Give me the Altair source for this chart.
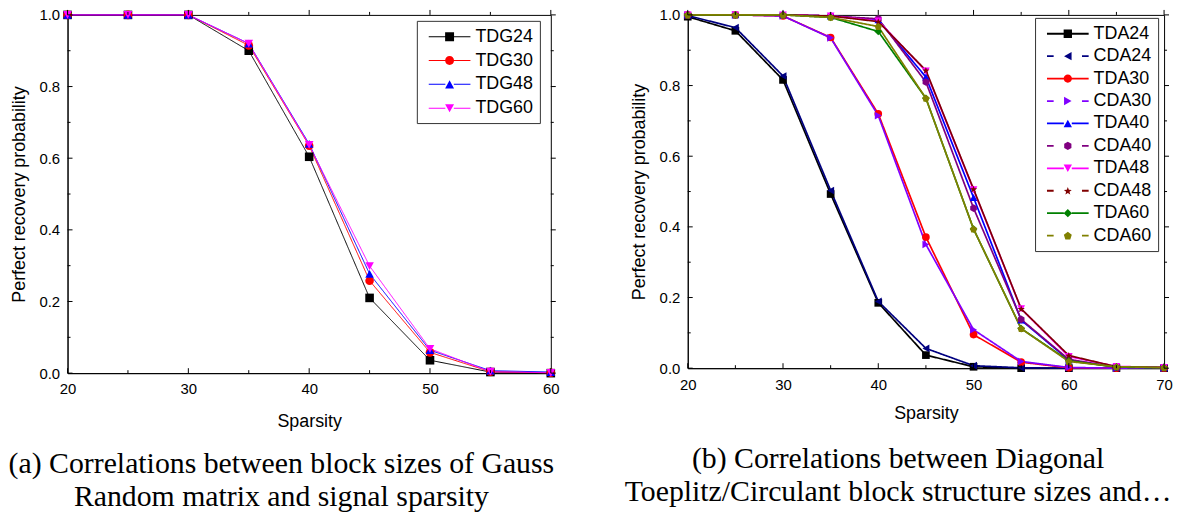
import math
import altair as alt
import pandas as pd

# ---------------- data ----------------
sparsity_a = [20, 25, 30, 35, 40, 45, 50, 55, 60]
series_a = ["TDG24", "TDG30", "TDG48", "TDG60"]
tdg24 = [1.0, 1.0, 1.0, 0.900, 0.604, 0.210, 0.036, 0.003, 0.000]
tdg30 = [1.0, 1.0, 1.0, 0.915, 0.635, 0.258, 0.058, 0.004, 0.001]
tdg48 = [1.0, 1.0, 1.0, 0.920, 0.640, 0.277, 0.064, 0.007, 0.003]
tdg60 = [1.0, 1.0, 1.0, 0.920, 0.637, 0.299, 0.068, 0.004, 0.001]
values_a = [tdg24, tdg30, tdg48, tdg60]
colors_a = ["#000000", "#FF0000", "#0000FF", "#FF00FF"]
markers_a = ["square", "circle", "triangle-up", "triangle-down"]
dashed_a = [False, False, False, False]

sparsity_b = [20, 25, 30, 35, 40, 45, 50, 55, 60, 65, 70]
series_b = ["TDA24", "CDA24", "TDA30", "CDA30", "TDA40",
            "CDA40", "TDA48", "CDA48", "TDA60", "CDA60"]
tda24 = [0.995, 0.955, 0.816, 0.493, 0.185, 0.037, 0.004, 0.0, 0.0, 0.0, 0.0]
cda24 = [0.998, 0.964, 0.827, 0.503, 0.189, 0.056, 0.007, 0.001, 0.0, 0.0, 0.0]
tda30 = [1.0, 1.0, 0.997, 0.936, 0.720, 0.371, 0.095, 0.017, 0.001, 0.0, 0.0]
cda30 = [1.0, 1.0, 0.997, 0.935, 0.715, 0.350, 0.109, 0.019, 0.002, 0.0, 0.0]
tda40 = [1.0, 1.0, 1.0, 0.997, 0.986, 0.824, 0.483, 0.136, 0.023, 0.003, 0.002]
cda40 = [1.0, 1.0, 1.0, 0.997, 0.989, 0.810, 0.453, 0.138, 0.025, 0.003, 0.001]
tda48 = [1.0, 1.0, 1.0, 0.997, 0.983, 0.841, 0.505, 0.168, 0.033, 0.005, 0.002]
cda48 = [1.0, 1.0, 1.0, 0.997, 0.981, 0.843, 0.507, 0.168, 0.036, 0.004, 0.002]
tda60 = [1.0, 1.0, 1.0, 0.993, 0.953, 0.764, 0.394, 0.112, 0.021, 0.003, 0.001]
cda60 = [1.0, 1.0, 1.0, 0.993, 0.967, 0.764, 0.394, 0.112, 0.019, 0.004, 0.002]
values_b = [tda24, cda24, tda30, cda30, tda40, cda40, tda48, cda48, tda60, cda60]
colors_b = ["#000000", "#000080", "#FF0000", "#8000FF", "#0000FF",
            "#800080", "#FF00FF", "#800000", "#008000", "#808000"]
markers_b = ["square", "triangle-left", "circle", "triangle-right", "triangle-up",
             "hexagon", "triangle-down", "star", "diamond", "pentagon"]
dashed_b = [False, True, False, True, False, True, False, True, False, True]

y_major = [0.0, 0.2, 0.4, 0.6, 0.8, 1.0]
y_minor = [0.1, 0.3, 0.5, 0.7, 0.9]
x_major_a = [20, 30, 40, 50, 60]
x_minor_a = [25, 35, 45, 55]
x_major_b = [20, 30, 40, 50, 60, 70]
x_minor_b = [25, 35, 45, 55, 65]

caption_a = ["(a) Correlations between block sizes of Gauss",
             "Random matrix and signal sparsity"]
caption_b = ["(b) Correlations between Diagonal",
             "Toeplitz/Circulant block structure sizes and sparsity"]

SANS = "Liberation Sans"
SERIF = "Liberation Serif"

LEG_SIZE = 400          # legend symbol box: 20 px, 1 unit = 10 px
LEG_HALF = 2.1          # half length of legend line in units (42 px line)


# ---------------- marker geometry (unit box -1..1) ----------------
def poly(pts):
    return "M" + "L".join(f"{x:.4f},{y:.4f}" for x, y in pts) + "Z"


def marker_pts(kind):
    if kind == "square":
        return [(-1, -1), (1, -1), (1, 1), (-1, 1)]
    if kind == "triangle-up":
        return [(0, -0.9), (1, 0.9), (-1, 0.9)]
    if kind == "triangle-down":
        return [(0, 0.9), (1, -0.9), (-1, -0.9)]
    if kind == "triangle-left":
        return [(-0.9, 0), (0.9, -1), (0.9, 1)]
    if kind == "triangle-right":
        return [(0.9, 0), (-0.9, -1), (-0.9, 1)]
    if kind == "diamond":
        return [(0, -1), (1, 0), (0, 1), (-1, 0)]
    if kind == "hexagon":
        return [(math.cos(math.radians(-90 + 60 * k)), math.sin(math.radians(-90 + 60 * k))) for k in range(6)]
    if kind == "pentagon":
        return [(math.cos(math.radians(-90 + 72 * k)), 0.1 + math.sin(math.radians(-90 + 72 * k))) for k in range(5)]
    if kind == "star":
        pts = []
        for k in range(10):
            r = 1.0 if k % 2 == 0 else 0.42
            a = math.radians(-90 + 36 * k)
            pts.append((r * math.cos(a), 0.1 + r * math.sin(a)))
        return pts
    return None


def marker_path(kind, m=1.0):
    if kind == "circle":
        return f"M{m},0A{m},{m},0,1,1,{-m},0A{m},{m},0,1,1,{m},0Z"
    return poly([(x * m, y * m) for x, y in marker_pts(kind)])


def rect(x0, x1, t):
    return poly([(x0, -t), (x1, -t), (x1, t), (x0, t)])


def legend_path(kind, dashed, m, t):
    L = LEG_HALF
    if dashed:
        line = rect(-L, -0.68 * L, t) + rect(0.68 * L, L, t)
    else:
        line = rect(-L, -m * 0.95, t) + rect(m * 0.95, L, t)
    return line + marker_path(kind, m)


def chart_shape(kind):
    return "circle" if kind == "circle" else marker_path(kind, 1.0)


# ---------------- panel builder ----------------
def panel(xs, series, values, colors, markers, dashed, x_major, x_minor,
          W, H, caption, leg_x, leg_y, line_w, pt_size, leg_m, leg_t, row_pad,
          xtitle_pad, cap_offset, cap_dx, cap_limit=0):
    rows = []
    for s, vals in zip(series, values):
        for x, y in zip(xs, vals):
            rows.append({"series": s, "x": x, "y": y})
    df = pd.DataFrame(rows)

    xscale = alt.Scale(domain=[xs[0], xs[-1]], nice=False, zero=False)
    yscale = alt.Scale(domain=[0, 1], nice=False)

    X = alt.X("x:Q", scale=xscale,
              axis=alt.Axis(values=x_major, format="d", title="Sparsity",
                            ticks=False, grid=False, labelPadding=9,
                            labelFlush=False, titlePadding=xtitle_pad))
    Y = alt.Y("y:Q", scale=yscale,
              axis=alt.Axis(values=y_major, format=".1f",
                            title="Perfect recovery probability",
                            ticks=False, grid=False, labelPadding=8,
                            labelFlush=False, titlePadding=11))

    legend = alt.Legend(
        title=None, orient="none", legendX=leg_x, legendY=leg_y,
        symbolSize=LEG_SIZE, labelFont=SANS, labelFontSize=18, labelColor="black",
        symbolOffset=17, labelOffset=16, padding=6, rowPadding=row_pad,
        fillColor="white", strokeColor="#333333",
        symbolStrokeWidth=0, symbolOpacity=1,
    )
    cscale = alt.Scale(domain=series, range=colors)
    color_noleg = alt.Color("series:N", scale=cscale, legend=None)
    dash = alt.StrokeDash("series:N",
                          scale=alt.Scale(domain=series,
                                          range=[[6, 4] if d else [1, 0] for d in dashed]),
                          legend=None)
    shape = alt.Shape("series:N",
                      scale=alt.Scale(domain=series, range=[chart_shape(k) for k in markers]),
                      legend=None)

    base = alt.Chart(df)
    lines = base.mark_line(strokeWidth=line_w).encode(
        x=X, y=Y, color=color_noleg, strokeDash=dash, order="x:Q")
    points = base.mark_point(filled=True, size=pt_size, opacity=1).encode(
        x=X, y=Y, color=color_noleg, shape=shape)

    # legend-only layer (no rows drawn); its symbols combine line and marker
    leg_paths = [legend_path(k, d, leg_m, leg_t) for k, d in zip(markers, dashed)]
    legend_layer = base.transform_filter("false").mark_point(filled=True).encode(
        x=X, y=Y,
        color=alt.Color("series:N", scale=cscale, legend=legend),
        shape=alt.Shape("series:N", scale=alt.Scale(domain=series, range=leg_paths),
                        legend=legend),
    )

    def xt(vals, y0, y1):
        return alt.Chart(pd.DataFrame({"x": vals})).mark_rule(
            color="black", strokeWidth=1).encode(
            x=alt.X("x:Q", scale=xscale),
            y=alt.value(y0), y2=alt.value(y1))

    def yt(vals, x0, x1):
        return alt.Chart(pd.DataFrame({"y": vals})).mark_rule(
            color="black", strokeWidth=1).encode(
            y=alt.Y("y:Q", scale=yscale),
            x=alt.value(x0), x2=alt.value(x1))

    ticks = [
        xt(x_major, H, H - 5), xt(x_minor, H, H - 3),
        xt(x_major, 0, -5), xt(x_minor, 0, -3),
        yt(y_major, 0, 5), yt(y_minor, 0, 3),
        yt(y_major, W, W + 5), yt(y_minor, W, W + 3),
    ]

    title_kw = dict(text=caption, orient="bottom", anchor="middle",
                    font=SERIF, fontSize=30, fontWeight="normal",
                    lineHeight=33, offset=cap_offset, dx=cap_dx, color="black")
    if cap_limit:
        title_kw["limit"] = cap_limit

    return alt.layer(lines, points, legend_layer, *ticks).resolve_scale(
        color="independent", shape="independent"
    ).properties(width=W, height=H, title=alt.TitleParams(**title_kw))


left = panel(sparsity_a, series_a, values_a, colors_a, markers_a, dashed_a,
             x_major_a, x_minor_a, 487, 361, caption_a, 352, 6,
             1.0, 75, 0.45, 0.05, 5, 16, 19, -28)
right = panel(sparsity_b, series_b, values_b, colors_b, markers_b, dashed_b,
              x_major_b, x_minor_b, 480, 356, caption_b, 350, 3,
              1.7, 60, 0.42, 0.09, 3.6, 13, 22, -28, cap_limit=552)

chart = alt.hconcat(
    left, right, spacing=138, bounds="flush",
    padding={"left": 0, "top": -3, "right": 0, "bottom": 0},
).configure(
    background="white",
).configure_view(
    stroke="black", strokeWidth=1,
).configure_axis(
    domainColor="black", domainWidth=1,
    labelFont=SANS, labelFontSize=15, labelColor="black",
    titleFont=SANS, titleFontSize=18, titleFontWeight="normal", titleColor="black",
)

chart.save("out.html", embed_options={"renderer": "svg", "actions": False})
